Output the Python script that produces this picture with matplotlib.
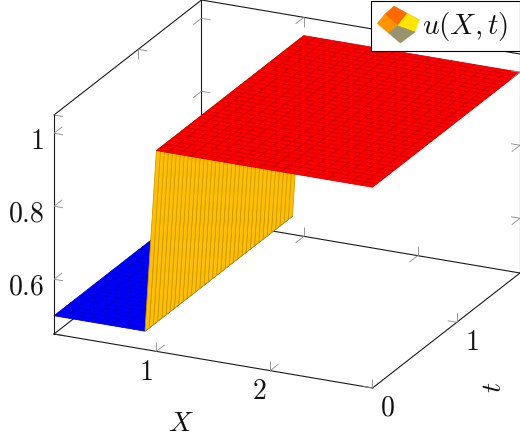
import numpy as np
import matplotlib
matplotlib.use("Agg")
import matplotlib.pyplot as plt
from matplotlib.colors import LinearSegmentedColormap
from matplotlib.legend_handler import HandlerBase
from matplotlib.patches import Polygon, Patch, Rectangle
from mpl_toolkits.mplot3d.art3d import Poly3DCollection

plt.rcParams["mathtext.fontset"] = "cm"
plt.rcParams["font.family"] = "DejaVu Serif"

# ---- data ----
x_values = [0.1, 0.2, 0.3, 0.4, 0.5, 0.6, 0.7, 0.8, 0.9, 1.0, 1.1, 1.2, 1.3, 1.4, 1.5,
            1.6, 1.7, 1.8, 1.9, 2.0, 2.1, 2.2, 2.3, 2.4, 2.5, 2.6, 2.7, 2.8, 2.9]
t_values = [0.0, 0.05, 0.1, 0.15, 0.2, 0.25, 0.3, 0.35, 0.4, 0.45, 0.5, 0.55,
            0.6, 0.65, 0.7, 0.75, 0.8, 0.85, 0.9, 0.95, 1.0, 1.05, 1.1, 1.15,
            1.2, 1.25, 1.3, 1.35, 1.4, 1.45, 1.5, 1.55, 1.6, 1.65, 1.7, 1.75]
u_profile = [0.5, 0.5, 0.5, 0.5, 0.5, 0.5, 0.5, 0.5, 0.5,
             1.0, 1.0, 1.0, 1.0, 1.0, 1.0, 1.0, 1.0, 1.0, 1.0, 1.0,
             1.0, 1.0, 1.0, 1.0, 1.0, 1.0, 1.0, 1.0, 1.0]
x_ticks = [1, 2]
t_ticks = [0, 1]
z_ticks = [0.6, 0.8, 1.0]
z_tick_labels = ["$0.6$", "$0.8$", "$1$"]
legend_label = r"$u(X,t)$"

XMIN, XMAX = x_values[0], x_values[-1]
TMIN, TMAX = t_values[0], t_values[-1]
ZMIN, ZMAX = 0.45, 1.05

W, H = 520, 445
fig = plt.figure(figsize=(W / 100, H / 100), dpi=100)
ax = fig.add_axes([0, 0, 1, 1], projection="3d")
ax.apply_aspect = lambda position=None: None
ax.set_position([0, 0, 1, 1])
ax.set_xticks([])
ax.set_yticks([])
ax.set_zticks([])
ax.set_axis_off()
ax.computed_zorder = False
ax.patch.set_facecolor("white")

# oblique axis vectors in pixels (from the top-left corner of the image)
ORIGIN = (54.0, 334.0)
PX_X = (318.5 / (XMAX - XMIN), 54.0 / (XMAX - XMIN))
PX_T = (147.5 / (TMAX - TMIN), -115.0 / (TMAX - TMIN))
PX_Z = (0.0, -219.0 / (ZMAX - ZMIN))


def get_proj():
    inv = ax.transData.inverted()
    p0, p1 = inv.transform((0, 0)), inv.transform((1, 1))
    sx, sy = p1[0] - p0[0], p1[1] - p0[1]
    x0 = ORIGIN[0] - PX_X[0] * XMIN - PX_T[0] * TMIN
    y0 = ORIGIN[1] - PX_X[1] * XMIN - PX_T[1] * TMIN - PX_Z[1] * ZMIN
    return np.array([
        [sx * PX_X[0], sx * PX_T[0], sx * PX_Z[0], p0[0] + sx * x0],
        [-sy * PX_X[1], -sy * PX_T[1], -sy * PX_Z[1], p0[1] + sy * (H - y0)],
        [-1.0, 0.05, 0.01, 0.0],
        [0.0, 0.0, 0.0, 1.0],
    ])


ax.get_proj = get_proj

# ---- surface ----
cmap = LinearSegmentedColormap.from_list("hot3", ["#0000ff", "#ffff00", "#ff8000", "#ff0000"])
polys, faces, edges = [], [], []
for i in range(len(x_values) - 1):
    for j in range(len(t_values) - 1):
        xa, xb = x_values[i], x_values[i + 1]
        ta, tb = t_values[j], t_values[j + 1]
        ua, ub = u_profile[i], u_profile[i + 1]
        polys.append([(xa, ta, ua), (xb, ta, ub), (xb, tb, ub), (xa, tb, ua)])
        rgb = np.array(cmap(((ua + ub) / 2 - 0.5) / 0.5))
        faces.append(rgb)
        edges.append(np.r_[rgb[:3] * 0.8, 1.0])
surface = Poly3DCollection(polys, facecolors=faces, edgecolors=edges, linewidths=0.55, zorder=2)
ax.add_collection3d(surface, autolim=False)

# ---- box ----
LINE = dict(color="#1a1a1a", lw=0.8, solid_capstyle="projecting")
TICK = dict(color="#8f8f8f", lw=0.65, solid_capstyle="butt")
back = [((XMIN, XMIN), (TMIN, TMAX), (ZMIN, ZMIN)),
        ((XMIN, XMAX), (TMAX, TMAX), (ZMIN, ZMIN)),
        ((XMIN, XMIN), (TMAX, TMAX), (ZMIN, ZMAX)),
        ((XMIN, XMIN), (TMIN, TMAX), (ZMAX, ZMAX)),
        ((XMIN, XMAX), (TMAX, TMAX), (ZMAX, ZMAX))]
front = [((XMIN, XMAX), (TMIN, TMIN), (ZMIN, ZMIN)),
         ((XMAX, XMAX), (TMIN, TMAX), (ZMIN, ZMIN)),
         ((XMIN, XMIN), (TMIN, TMIN), (ZMIN, ZMAX)),
         ((XMAX, XMAX), (TMAX, TMAX), (ZMIN, ZMAX))]
for seg in back:
    ax.plot(*seg, zorder=1, **LINE)
for seg in front:
    ax.plot(*seg, zorder=3, **LINE)

DX, DT, DZ = 0.079, 0.098, 0.0255


def tick(x, t, z, dirs, zorder):
    for d in dirs:
        ax.plot((x, x + d[0]), (t, t + d[1]), (z, z + d[2]), zorder=zorder, **TICK)


for v in x_ticks:
    tick(v, TMIN, ZMIN, [(0, DT, 0), (0, 0, DZ)], 3)
    tick(v, TMAX, ZMIN, [(0, -DT, 0), (0, 0, DZ)], 1)
    tick(v, TMAX, ZMAX, [(0, -DT, 0), (0, 0, -DZ)], 1)
for v in t_ticks:
    tick(XMIN, v, ZMAX, [(DX, 0, 0), (0, 0, -DZ)], 1)
    tick(XMAX, v, ZMIN, [(-DX, 0, 0), (0, 0, DZ)], 3)
    tick(XMIN, v, ZMIN, [(DX, 0, 0), (0, 0, DZ)], 1)
for v in z_ticks:
    tick(XMIN, TMIN, v, [(DX, 0, 0), (0, DT, 0)], 3)
    tick(XMIN, TMAX, v, [(DX, 0, 0), (0, -DT, 0)], 1)
    tick(XMAX, TMAX, v, [(-DX, 0, 0), (0, -DT, 0)], 3)

# ---- labels ----
FS = 20
TXT = dict(fontsize=FS, color="#111111", zorder=4)
for v in x_ticks:
    ax.text(v, TMIN - 0.13, ZMIN - 0.034, f"${v}$", ha="center", va="center", **TXT)
for v in t_ticks:
    ax.text(XMAX + 0.132, v, ZMIN - 0.048, f"${v}$", ha="center", va="center", **TXT)
for v, s in zip(z_ticks, z_tick_labels):
    ax.text(XMIN - 0.088, TMIN, v - 0.027, s, ha="right", va="center", **TXT)
ax.text(1.5, TMIN - 0.38, ZMIN - 0.104, "$X$", ha="center", va="center", **TXT)
ax.text(XMAX + 0.413, (TMIN + TMAX) / 2, ZMIN - 0.133, "$t$", zdir="z", ha="center", va="center", **TXT)


# ---- legend with the surface icon ----
class SurfaceIcon(HandlerBase):
    CELLS = [((0.40, 1.00), (1.00, 0.62), (0.48, 0.47), (0.18, 0.78), "#ff6a00"),
             ((0.00, 0.53), (0.18, 0.78), (0.48, 0.47), (0.27, 0.27), "#ff9300"),
             ((1.00, 0.62), (0.90, 0.30), (0.48, 0.47), (0.72, 0.80), "#ffe600"),
             ((0.27, 0.27), (0.48, 0.47), (0.90, 0.30), (0.55, 0.00), "#99936e")]

    def create_artists(self, legend, orig_handle, xdescent, ydescent, width, height, fontsize, trans):
        out = []
        for cell in self.CELLS:
            pts = [(-1.44 + 30.2 * p[0], -6.3 + 26.6 * p[1]) for p in cell[:4]]
            col = cell[4]
            out.append(Polygon(pts, closed=True, facecolor=col, edgecolor=col, lw=0.4, transform=trans))
        return out


fig.add_artist(Rectangle((370.5 / W, 1 - 51.0 / H), 149.2 / W, 49.7 / H, transform=fig.transFigure,
                         facecolor="white", edgecolor="black", lw=0.8, zorder=4.9))
proxy = Patch(label=legend_label)
leg = fig.legend(handles=[proxy], handler_map={Patch: SurfaceIcon()},
                 loc="upper right", bbox_to_anchor=(519.7 / W, 1 + 0.7 / H),
                 bbox_transform=fig.transFigure, fontsize=21, frameon=False, borderaxespad=0,
                 borderpad=0.377, handlelength=1.48, handleheight=0.8, handletextpad=0.0)
leg.get_texts()[0].set_color("#111111")

fig.savefig("out.png", dpi=100)
